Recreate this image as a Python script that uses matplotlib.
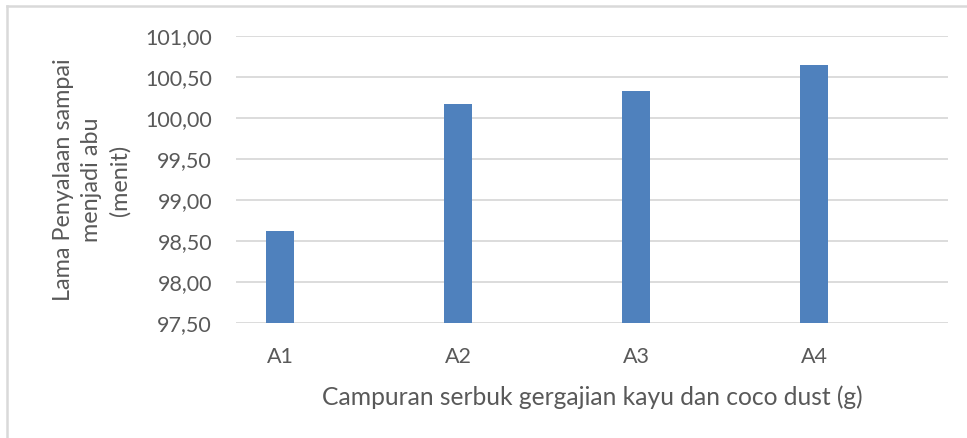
import matplotlib
matplotlib.use("Agg")
import matplotlib.pyplot as plt
from matplotlib.ticker import FuncFormatter
from matplotlib.lines import Line2D

plt.rcParams['font.family'] = ['Lato', 'DejaVu Sans']

categories = ["A1", "A2", "A3", "A4"]
values = [98.62, 100.17, 100.33, 100.65]
y_ticks = [97.5, 98.0, 98.5, 99.0, 99.5, 100.0, 100.5, 101.0]

text_color = "#595959"
grid_color = "#d9d9d9"
bar_color = "#4F81BD"

W, H = 967, 438
fig = plt.figure(figsize=(W / 100, H / 100), dpi=100)
ax = fig.add_axes([0.2437, 0.2619, 0.9807 - 0.2437, 0.9178 - 0.2619])

x = list(range(len(categories)))
ax.bar(x, values, width=0.156, color=bar_color, zorder=3)

ax.set_ylim(97.5, 101.0)
ax.set_xlim(-0.249, 3.752)
ax.set_yticks(y_ticks)
ax.yaxis.set_major_formatter(FuncFormatter(lambda v, p: f"{v:.2f}".replace('.', ',')))
ax.set_xticks(x)
ax.set_xticklabels(categories)

ax.grid(axis='y', color=grid_color, linewidth=1.3, zorder=0)
for s in ax.spines.values():
    s.set_visible(False)
ax.tick_params(axis='both', length=0, colors=text_color, labelsize=15.5)
ax.tick_params(axis='y', pad=17)
ax.tick_params(axis='x', pad=17)

ax.set_xlabel("Campuran serbuk gergajian kayu dan coco dust (g)", fontsize=17.7,
              color=text_color, labelpad=13)

fig.text(92 / W, 1 - 180 / H, "Lama Penyalaan sampai\nmenjadi abu\n(menit)",
         rotation=90, ha='center', va='center', multialignment='center',
         fontsize=16.8, color=text_color, linespacing=1.4)

# figure border (top and left visible)
fig.add_artist(Line2D([7 / W, 7 / W], [0, 1 - 6 / H], transform=fig.transFigure,
                      color=grid_color, linewidth=1.8))
fig.add_artist(Line2D([7 / W, 1], [1 - 6 / H, 1 - 6 / H], transform=fig.transFigure,
                      color=grid_color, linewidth=1.8))

fig.savefig("out.png", dpi=100)
